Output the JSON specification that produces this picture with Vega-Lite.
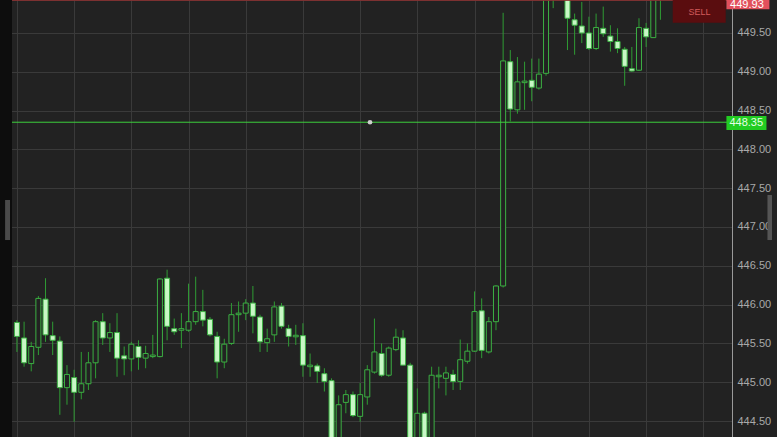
{
  "$schema": "https://vega.github.io/schema/vega-lite/v6.json",
  "width": 725,
  "height": 437,
  "autosize": {"type": "none"},
  "padding": {"left": 7, "right": 45, "top": 0, "bottom": 0},
  "background": "#222222",
  "config": {"view": {"fill": "#222222", "stroke": null}, "font": "Liberation Sans"},
  "datasets": {
    "candles": [
      {"i":1,"o":445.77,"h":445.80,"l":445.39,"c":445.59},
      {"i":2,"o":445.57,"h":445.78,"l":445.20,"c":445.25},
      {"i":3,"o":445.24,"h":445.52,"l":445.14,"c":445.46},
      {"i":4,"o":445.45,"h":446.11,"l":445.35,"c":446.08},
      {"i":5,"o":446.07,"h":446.34,"l":445.52,"c":445.61},
      {"i":6,"o":445.60,"h":445.78,"l":445.35,"c":445.54},
      {"i":7,"o":445.53,"h":445.59,"l":444.58,"c":444.93},
      {"i":8,"o":444.93,"h":445.22,"l":444.71,"c":445.10},
      {"i":9,"o":445.06,"h":445.16,"l":444.49,"c":444.87},
      {"i":10,"o":444.87,"h":445.39,"l":444.78,"c":444.98},
      {"i":11,"o":444.98,"h":445.39,"l":444.90,"c":445.25},
      {"i":12,"o":445.25,"h":445.80,"l":445.05,"c":445.78},
      {"i":13,"o":445.78,"h":445.89,"l":445.48,"c":445.57},
      {"i":14,"o":445.57,"h":445.76,"l":445.39,"c":445.64},
      {"i":15,"o":445.64,"h":445.89,"l":445.07,"c":445.31},
      {"i":16,"o":445.34,"h":445.46,"l":445.09,"c":445.30},
      {"i":17,"o":445.30,"h":445.52,"l":445.14,"c":445.49},
      {"i":18,"o":445.46,"h":445.54,"l":445.16,"c":445.32},
      {"i":19,"o":445.31,"h":445.47,"l":445.18,"c":445.37},
      {"i":20,"o":445.33,"h":445.61,"l":445.31,"c":445.35},
      {"i":21,"o":445.33,"h":446.34,"l":445.32,"c":446.33},
      {"i":22,"o":446.34,"h":446.45,"l":445.54,"c":445.72},
      {"i":23,"o":445.69,"h":445.82,"l":445.61,"c":445.65},
      {"i":24,"o":445.67,"h":445.89,"l":445.44,"c":445.69},
      {"i":25,"o":445.67,"h":446.27,"l":445.65,"c":445.78},
      {"i":26,"o":445.78,"h":446.36,"l":445.74,"c":445.91},
      {"i":27,"o":445.91,"h":446.19,"l":445.72,"c":445.80},
      {"i":28,"o":445.81,"h":445.84,"l":445.59,"c":445.61},
      {"i":29,"o":445.59,"h":445.65,"l":445.05,"c":445.26},
      {"i":30,"o":445.26,"h":445.56,"l":445.18,"c":445.49},
      {"i":31,"o":445.50,"h":446.02,"l":445.48,"c":445.87},
      {"i":32,"o":445.87,"h":446.04,"l":445.65,"c":445.89},
      {"i":33,"o":445.89,"h":446.07,"l":445.80,"c":446.02},
      {"i":34,"o":446.02,"h":446.24,"l":445.63,"c":445.85},
      {"i":35,"o":445.84,"h":445.87,"l":445.39,"c":445.52},
      {"i":36,"o":445.51,"h":445.69,"l":445.39,"c":445.56},
      {"i":37,"o":445.61,"h":446.04,"l":445.52,"c":445.97},
      {"i":38,"o":445.98,"h":446.02,"l":445.69,"c":445.72},
      {"i":39,"o":445.69,"h":445.74,"l":445.46,"c":445.59},
      {"i":40,"o":445.585,"h":445.74,"l":445.48,"c":445.605},
      {"i":41,"o":445.60,"h":445.76,"l":445.07,"c":445.22},
      {"i":42,"o":445.20,"h":445.37,"l":445.07,"c":445.22},
      {"i":43,"o":445.21,"h":445.24,"l":444.99,"c":445.14},
      {"i":44,"o":445.11,"h":445.18,"l":444.88,"c":445.01},
      {"i":45,"o":445.02,"h":445.05,"l":443.95,"c":444.05},
      {"i":46,"o":444.10,"h":444.83,"l":444.00,"c":444.71},
      {"i":47,"o":444.74,"h":444.90,"l":444.60,"c":444.84},
      {"i":48,"o":444.84,"h":444.88,"l":444.55,"c":444.57},
      {"i":49,"o":444.56,"h":444.99,"l":444.49,"c":444.84},
      {"i":50,"o":444.81,"h":445.22,"l":444.71,"c":445.16},
      {"i":51,"o":445.13,"h":445.82,"l":445.11,"c":445.39},
      {"i":52,"o":445.37,"h":445.50,"l":445.07,"c":445.09},
      {"i":53,"o":445.09,"h":445.46,"l":445.07,"c":445.44},
      {"i":54,"o":445.42,"h":445.69,"l":445.40,"c":445.58},
      {"i":55,"o":445.57,"h":445.67,"l":445.22,"c":445.22},
      {"i":56,"o":445.22,"h":445.25,"l":443.90,"c":444.00},
      {"i":57,"o":444.05,"h":444.92,"l":443.95,"c":444.60},
      {"i":58,"o":444.60,"h":444.62,"l":443.95,"c":444.10},
      {"i":59,"o":444.15,"h":445.20,"l":444.05,"c":445.09},
      {"i":60,"o":445.07,"h":445.20,"l":444.92,"c":445.09},
      {"i":61,"o":445.05,"h":445.20,"l":444.83,"c":445.12},
      {"i":62,"o":445.10,"h":445.16,"l":444.90,"c":445.01},
      {"i":63,"o":445.01,"h":445.55,"l":444.90,"c":445.29},
      {"i":64,"o":445.27,"h":445.50,"l":445.24,"c":445.40},
      {"i":65,"o":445.40,"h":446.17,"l":445.39,"c":445.91},
      {"i":66,"o":445.92,"h":446.08,"l":445.31,"c":445.41},
      {"i":67,"o":445.39,"h":445.84,"l":445.37,"c":445.78},
      {"i":68,"o":445.78,"h":446.25,"l":445.67,"c":446.24},
      {"i":69,"o":446.24,"h":449.76,"l":446.22,"c":449.14},
      {"i":70,"o":449.13,"h":449.28,"l":448.36,"c":448.52},
      {"i":71,"o":448.51,"h":449.19,"l":448.46,"c":448.87},
      {"i":72,"o":448.86,"h":449.13,"l":448.51,"c":448.88},
      {"i":73,"o":448.89,"h":449.17,"l":448.62,"c":448.80},
      {"i":74,"o":448.79,"h":449.17,"l":448.77,"c":448.97},
      {"i":75,"o":448.98,"h":450.10,"l":448.95,"c":450.02},
      {"i":76,"o":450.02,"h":450.30,"l":449.82,"c":450.20},
      {"i":77,"o":450.20,"h":450.40,"l":450.00,"c":450.10},
      {"i":78,"o":450.08,"h":450.15,"l":449.28,"c":449.69},
      {"i":79,"o":449.67,"h":449.75,"l":449.22,"c":449.60},
      {"i":80,"o":449.59,"h":449.90,"l":449.37,"c":449.50},
      {"i":81,"o":449.50,"h":449.71,"l":449.28,"c":449.30},
      {"i":82,"o":449.30,"h":449.75,"l":449.28,"c":449.57},
      {"i":83,"o":449.56,"h":449.84,"l":449.45,"c":449.49},
      {"i":84,"o":449.46,"h":449.60,"l":449.26,"c":449.39},
      {"i":85,"o":449.39,"h":449.56,"l":449.24,"c":449.30},
      {"i":86,"o":449.29,"h":449.32,"l":448.82,"c":449.07},
      {"i":87,"o":449.04,"h":449.32,"l":449.00,"c":449.01},
      {"i":88,"o":449.02,"h":449.69,"l":449.01,"c":449.57},
      {"i":89,"o":449.56,"h":449.63,"l":449.32,"c":449.45},
      {"i":90,"o":449.44,"h":450.10,"l":449.44,"c":450.05},
      {"i":91,"o":450.05,"h":450.25,"l":449.67,"c":450.15}
    ],
    "boxes": [
      {"name":"strip","i":-1.5,"i2":0.31,"y1":443.5,"y2":450.5,"fill":"#0d0d0d"},
      {"name":"ltab","i":-0.655,"i2":0.034,"y1":447.348,"y2":446.832,"fill":"#4a4a4a"},
      {"name":"rtab","i":105.97,"i2":106.6,"y1":447.412,"y2":446.832,"fill":"#555555"},
      {"name":"sell","i":92.72,"i2":100.13,"y1":450.05,"y2":449.632,"fill":"#5a0d0f"},
      {"name":"bid","i":100.23,"i2":106.24,"y1":450.05,"y2":449.805,"fill":"#e2505c"},
      {"name":"ask","i":100.23,"i2":105.83,"y1":448.43,"y2":448.25,"fill":"#22cc22"}
    ],
    "labels": [
      {"i":96.45,"y":449.77,"t":"SELL","col":"#d25a5a","sz":9,"w":"bold"},
      {"i":103.1,"y":449.867,"t":"449.93","col":"#ffffff","sz":11,"w":"normal"},
      {"i":103.0,"y":448.345,"t":"448.35","col":"#e6ffe6","sz":11,"w":"normal"}
    ],
    "lines": [
      {"y":449.92,"col":"#8a3434"},
      {"y":448.35,"col":"#3ccf3c"}
    ],
    "dot": [{"i":50.38,"y":448.35}]
  },
  "layer": [
    {
      "data": {"name": "candles"},
      "mark": {"type": "rule", "clip": true, "color": "#2f9c34", "strokeWidth": 1},
      "encoding": {
        "x": {"field": "i", "type": "quantitative", "title": null,
          "scale": {"domain": [0.31, 100.31], "nice": false, "zero": false},
          "axis": {"values": [1,5,9,13,17,21,25,29,33,37,41,45,49,53,57,61,65,69,73,77,81,85,89,93,97],
            "labels": false, "ticks": false, "domain": false, "grid": true, "gridColor": "#3a3a3a", "gridWidth": 1}},
        "y": {"field": "l", "type": "quantitative", "title": null,
          "scale": {"domain": [444.294, 449.925], "nice": false, "zero": false},
          "axis": {"orient": "right", "values": [444.5,445,445.5,446,446.5,447,447.5,448,448.5,449,449.5],
            "format": ".2f", "labelColor": "#a9a9a9", "labelFontSize": 11, "labelFont": "Liberation Sans",
            "labelPadding": 5, "ticks": false, "domain": true, "domainColor": "#9a9a9a", "domainWidth": 1,
            "grid": true, "gridColor": "#3a3a3a", "gridWidth": 1}},
        "y2": {"field": "h"}
      }
    },
    {
      "data": {"name": "candles"},
      "mark": {"type": "bar", "clip": true, "size": 5, "stroke": "#3cb043", "strokeWidth": 1},
      "encoding": {
        "x": {"field": "i", "type": "quantitative", "title": null},
        "y": {"field": "o", "type": "quantitative", "title": null},
        "y2": {"field": "c"},
        "fill": {"condition": {"test": "datum.c < datum.o", "value": "#c9f7c6"}, "value": "#222222"}
      }
    },
    {
      "data": {"name": "lines"},
      "mark": {"type": "rule", "strokeWidth": 1},
      "encoding": {
        "y": {"field": "y", "type": "quantitative", "title": null},
        "color": {"field": "col", "type": "nominal", "scale": null}
      }
    },
    {
      "data": {"name": "dot"},
      "mark": {"type": "point", "filled": true, "size": 22, "color": "#cfcfcf", "opacity": 1},
      "encoding": {
        "x": {"field": "i", "type": "quantitative", "title": null},
        "y": {"field": "y", "type": "quantitative", "title": null}
      }
    },
    {
      "data": {"name": "boxes"},
      "mark": {"type": "rect", "clip": false},
      "encoding": {
        "x": {"field": "i", "type": "quantitative", "title": null},
        "x2": {"field": "i2"},
        "y": {"field": "y1", "type": "quantitative", "title": null},
        "y2": {"field": "y2"},
        "fill": {"field": "fill", "type": "nominal", "scale": null}
      }
    },
    {
      "data": {"name": "labels"},
      "mark": {"type": "text", "clip": false, "align": "center", "baseline": "middle", "font": "Liberation Sans"},
      "encoding": {
        "x": {"field": "i", "type": "quantitative", "title": null},
        "y": {"field": "y", "type": "quantitative", "title": null},
        "text": {"field": "t"},
        "color": {"field": "col", "type": "nominal", "scale": null},
        "size": {"field": "sz", "type": "quantitative", "scale": null},
        "fontWeight": {"field": "w", "type": "nominal"}
      }
    }
  ]
}
